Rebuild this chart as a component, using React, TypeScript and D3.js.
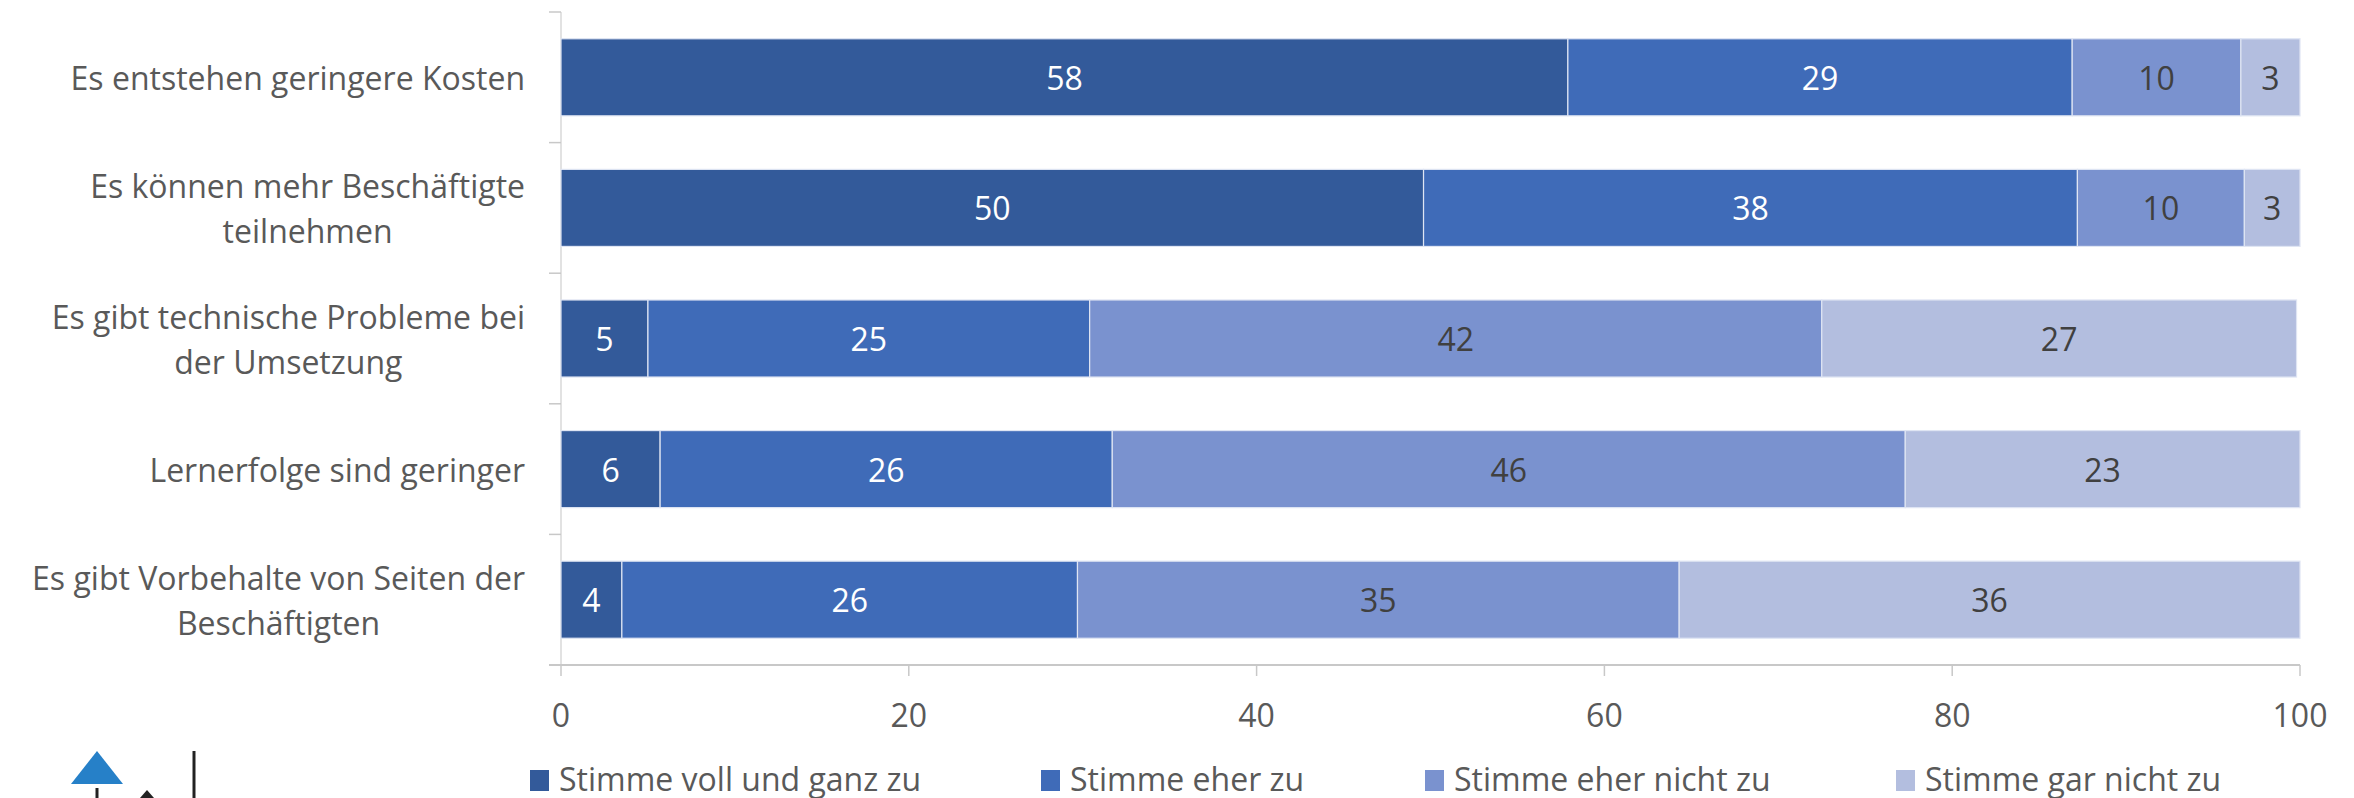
import { useMemo } from 'react'
import * as d3 from 'd3'

const categories = [
  ['Es entstehen geringere Kosten'],
  ['Es können mehr Beschäftigte', 'teilnehmen'],
  ['Es gibt technische Probleme bei', 'der Umsetzung'],
  ['Lernerfolge sind geringer'],
  ['Es gibt Vorbehalte von Seiten der', 'Beschäftigten'],
]

const seriesNames = [
  'Stimme voll und ganz zu',
  'Stimme eher zu',
  'Stimme eher nicht zu',
  'Stimme gar nicht zu',
]

const vollUndGanz = [57.9, 49.6, 5.0, 5.7, 3.5]
const eherZu = [29.0, 37.6, 25.4, 26.0, 26.2]
const eherNicht = [9.7, 9.6, 42.1, 45.6, 34.6]
const garNicht = [3.4, 3.2, 27.3, 22.7, 35.7]

const xTicks = [0, 20, 40, 60, 80, 100]

const colors = ['#335a9a', '#3f6bb8', '#7a92cf', '#b3bedf']
const labelColors = ['#ffffff', '#ffffff', '#404040', '#404040']

const W = 2354
const H = 798
const FONT = '"Open Sans", sans-serif'
const FS = 32
const LEGEND_FS = 32

let ctx: CanvasRenderingContext2D | null = null
const measure = (s: string) => {
  if (!ctx) ctx = document.createElement('canvas').getContext('2d')
  ctx!.font = `${FS}px "Open Sans"`
  return ctx!.measureText(s).width
}

export default function App() {
  const x = d3.scaleLinear().domain([0, 100]).range([561, 2300])
  const keys = categories.map((c) => c.join(' '))
  const y = d3
    .scaleBand<string>()
    .domain(keys)
    .range([12, 665])
    .paddingInner(0.41)
    .paddingOuter(0.205)

  const stacked = useMemo(() => {
    const rows = keys.map((k, i) => ({
      key: k,
      s0: vollUndGanz[i],
      s1: eherZu[i],
      s2: eherNicht[i],
      s3: garNicht[i],
    }))
    return d3.stack<any>().keys(['s0', 's1', 's2', 's3'])(rows)
  }, [])

  // legend item positions (layout)
  const legendX = [530, 1041, 1425, 1896]
  const gap = (y.step() * 0.41) / 2

  return (
    <div style={{ position: 'absolute', left: 0, top: 0 }}>
      <svg width={W} height={H} style={{ display: 'block' }} fontFamily={FONT}>
        <rect width={W} height={H} fill="#fff" />

        {/* category axis */}
        <line x1={561} x2={561} y1={12} y2={665} stroke="#d9d9d9" strokeWidth={1.5} />
        {keys.map((k, i) => (
          <line
            key={'ct' + i}
            x1={549}
            x2={561}
            y1={y(k)! - gap}
            y2={y(k)! - gap}
            stroke="#c8c8c8"
            strokeWidth={1.5}
          />
        ))}

        {/* category labels */}
        {categories.map((lines, i) => {
          const w = Math.max(...lines.map(measure))
          const cx = Math.max(525 - w / 2, 14 + w / 2)
          const cy = y(keys[i])! + y.bandwidth() / 2
          const lh = 45
          const top = cy - ((lines.length - 1) * lh) / 2
          return (
            <text key={'cl' + i} fontSize={FS} fill="#595959" textAnchor="middle">
              {lines.map((l, j) => (
                <tspan key={j} x={cx} y={top + j * lh} dominantBaseline="central">
                  {l}
                </tspan>
              ))}
            </text>
          )
        })}

        {/* bars */}
        {stacked.map((layer, si) => (
          <g key={'s' + si}>
            {layer.map((d, i) => {
              const x0 = x(d[0])
              const x1 = x(d[1])
              const yy = y(keys[i])!
              return (
                <g key={i}>
                  <rect
                    x={x0}
                    y={yy}
                    width={x1 - x0}
                    height={y.bandwidth()}
                    fill={colors[si]}
                    stroke="#dfe5f3"
                    strokeWidth={1.2}
                  />
                  <text
                    x={(x0 + x1) / 2}
                    y={yy + y.bandwidth() / 2}
                    textAnchor="middle"
                    dominantBaseline="central"
                    fontSize={FS}
                    fill={labelColors[si]}
                  >
                    {Math.round(d[1] - d[0])}
                  </text>
                </g>
              )
            })}
          </g>
        ))}

        {/* value axis */}
        <line x1={549} x2={2300} y1={665} y2={665} stroke="#c8c8c8" strokeWidth={2.2} />
        {xTicks.map((t) => (
          <g key={'xt' + t}>
            <line x1={x(t)} x2={x(t)} y1={665} y2={676} stroke="#c8c8c8" strokeWidth={1.5} />
            <text
              x={x(t)}
              y={714}
              textAnchor="middle"
              dominantBaseline="central"
              fontSize={FS}
              fill="#595959"
            >
              {t}
            </text>
          </g>
        ))}

        {/* legend */}
        {seriesNames.map((n, i) => (
          <g key={'lg' + i}>
            <rect x={legendX[i]} y={770} width={19} height={21} fill={colors[i]} />
            <text
              x={legendX[i] + 29}
              y={778}
              dominantBaseline="central"
              fontSize={LEGEND_FS}
              fill="#595959"
            >
              {n}
            </text>
          </g>
        ))}

        {/* logo fragment */}
        <polygon points="71,784 97,751 123,784" fill="#2680c8" />
        <line x1={194} x2={194} y1={751} y2={798} stroke="#222" strokeWidth={3} />
        <line x1={97} x2={97} y1={788} y2={798} stroke="#222" strokeWidth={3} />
        <polygon points="140,798 147,790 154,798" fill="#222" />
      </svg>
    </div>
  )
}
